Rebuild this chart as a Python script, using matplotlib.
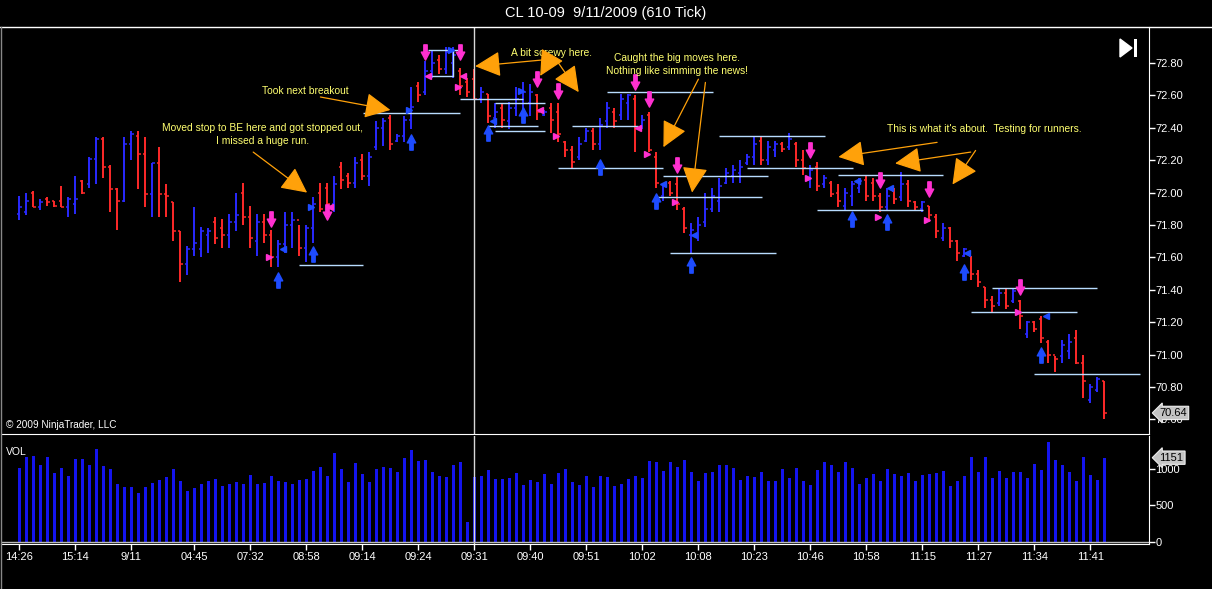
import matplotlib
matplotlib.use("Agg")
import matplotlib.pyplot as plt
from matplotlib.path import Path
from matplotlib.patches import Polygon, Rectangle
from matplotlib.transforms import blended_transform_factory

plt.rcParams['font.family'] = ['Liberation Sans', 'DejaVu Sans']

# ---- price bars (one per 610 ticks) ----
highs = [71.98, 72.00, 72.01, 71.96, 71.97, 71.95, 72.04, 71.97, 72.10, 72.08,
         72.22, 72.34, 72.34, 72.17, 72.03, 72.34, 72.38, 72.38, 72.34, 72.18,
         72.28, 72.05, 71.94, 71.76, 71.67, 71.91, 71.79, 71.78, 71.85, 71.84,
         71.87, 72.00, 72.06, 71.92, 71.87, 71.87, 71.77, 71.71, 71.88, 71.88,
         71.80, 71.80, 71.97, 72.06, 72.06, 72.10, 72.19, 72.12, 72.22, 72.24,
         72.25, 72.44, 72.46, 72.48, 72.36, 72.47, 72.65, 72.68, 72.81, 72.88,
         72.85, 72.90, 72.90, 72.77, 72.71, 72.76, 72.65, 72.61, 72.55, 72.55,
         72.56, 72.65, 72.68, 72.67, 72.61, 72.51, 72.55, 72.55, 72.32, 72.29,
         72.34, 72.40, 72.40, 72.46, 72.56, 72.52, 72.61, 72.61, 72.60, 72.48,
         72.50, 72.25, 72.06, 72.07, 72.10, 71.91, 71.81, 71.85, 72.00, 72.03,
         72.09, 72.15, 72.17, 72.20, 72.24, 72.34, 72.34, 72.32, 72.32, 72.31,
         72.37, 72.31, 72.26, 72.17, 72.19, 72.11, 72.07, 72.05, 72.03, 72.07,
         72.09, 72.10, 72.09, 72.00, 72.03, 72.03, 72.13, 72.08, 71.95, 71.95,
         71.92, 71.87, 71.81, 71.79, 71.71, 71.66, 71.61, 71.52, 71.42, 71.36,
         71.41, 71.41, 71.41, 71.34, 71.21, 71.21, 71.24, 71.09, 70.99, 71.09,
         71.13, 71.15, 71.00, 70.82, 70.86, 70.84]
lows = [71.83, 71.86, 71.91, 71.89, 71.92, 71.91, 71.91, 71.85, 71.87, 71.99,
        72.03, 72.05, 72.09, 71.88, 71.77, 71.94, 72.20, 72.02, 71.91, 71.85,
        71.85, 71.85, 71.70, 71.45, 71.49, 71.61, 71.60, 71.63, 71.68, 71.66,
        71.66, 71.76, 71.80, 71.66, 71.61, 71.69, 71.54, 71.54, 71.63, 71.66,
        71.61, 71.57, 71.69, 71.88, 71.86, 71.88, 72.02, 72.03, 72.03, 72.08,
        72.04, 72.26, 72.29, 72.26, 72.31, 72.31, 72.39, 72.56, 72.60, 72.71,
        72.73, 72.73, 72.71, 72.60, 72.59, 72.57, 72.55, 72.43, 72.40, 72.40,
        72.39, 72.47, 72.44, 72.47, 72.45, 72.47, 72.37, 72.31, 72.22, 72.15,
        72.20, 72.31, 72.26, 72.26, 72.40, 72.40, 72.45, 72.45, 72.25, 72.39,
        72.25, 72.03, 71.95, 71.98, 71.89, 71.75, 71.63, 71.70, 71.79, 71.88,
        71.88, 72.05, 72.06, 72.06, 72.17, 72.17, 72.17, 72.17, 72.22, 72.25,
        72.26, 72.16, 72.11, 72.03, 72.01, 72.03, 71.97, 71.91, 71.89, 71.92,
        72.00, 71.95, 71.95, 71.88, 71.89, 71.93, 71.95, 71.91, 71.89, 71.88,
        71.82, 71.72, 71.70, 71.66, 71.58, 71.60, 71.46, 71.42, 71.29, 71.26,
        71.30, 71.28, 71.32, 71.16, 71.10, 71.14, 71.07, 70.95, 70.89, 70.95,
        70.97, 70.94, 70.73, 70.70, 70.77, 70.60]
opens = [71.87, 71.88, 72.00, 71.91, 71.96, 71.95, 71.95, 71.91, 71.93, 72.07,
         72.05, 72.21, 72.33, 72.16, 72.02, 71.95, 72.30, 72.35, 72.24, 71.99,
         72.18, 71.99, 71.94, 71.76, 71.56, 71.65, 71.65, 71.74, 71.82, 71.78,
         71.74, 71.82, 72.00, 71.85, 71.70, 71.82, 71.74, 71.60, 71.68, 71.80,
         71.83, 71.66, 71.78, 72.00, 72.03, 71.93, 72.16, 72.10, 72.06, 72.20,
         72.10, 72.28, 72.40, 72.46, 72.32, 72.35, 72.45, 72.66, 72.62, 72.75,
         72.82, 72.76, 72.80, 72.75, 72.68, 72.70, 72.58, 72.61, 72.46, 72.52,
         72.44, 72.52, 72.50, 72.55, 72.60, 72.48, 72.52, 72.50, 72.31, 72.26,
         72.22, 72.32, 72.38, 72.30, 72.44, 72.50, 72.48, 72.55, 72.58, 72.41,
         72.48, 72.22, 71.98, 72.06, 72.05, 71.90, 71.74, 71.74, 71.82, 71.90,
         71.95, 72.06, 72.10, 72.12, 72.18, 72.22, 72.32, 72.20, 72.26, 72.30,
         72.28, 72.30, 72.20, 72.08, 72.16, 72.05, 72.06, 72.00, 71.92, 71.98,
         72.03, 72.08, 72.06, 71.98, 71.91, 72.01, 71.97, 72.05, 71.94, 71.90,
         71.92, 71.85, 71.72, 71.78, 71.70, 71.61, 71.61, 71.50, 71.42, 71.34,
         71.32, 71.38, 71.33, 71.33, 71.13, 71.20, 71.22, 71.08, 71.00, 70.99,
         71.02, 71.10, 70.95, 70.72, 70.78, 70.84]
closes = [71.91, 71.95, 71.91, 71.94, 71.94, 71.92, 71.91, 71.96, 71.96, 72.00,
          72.21, 72.33, 72.16, 72.02, 71.95, 72.30, 72.36, 72.24, 71.99, 72.18,
          71.99, 71.98, 71.76, 71.56, 71.65, 71.69, 71.76, 71.76, 71.72, 71.74,
          71.82, 71.86, 71.85, 71.72, 71.82, 71.74, 71.60, 71.68, 71.80, 71.83,
          71.66, 71.78, 71.93, 71.90, 71.93, 72.05, 72.08, 72.06, 72.18, 72.10,
          72.22, 72.40, 72.44, 72.30, 72.35, 72.45, 72.53, 72.60, 72.75, 72.80,
          72.76, 72.87, 72.85, 72.66, 72.62, 72.58, 72.62, 72.47, 72.50, 72.45,
          72.52, 72.58, 72.62, 72.62, 72.50, 72.50, 72.45, 72.36, 72.26, 72.19,
          72.30, 72.38, 72.30, 72.42, 72.52, 72.44, 72.58, 72.60, 72.40, 72.45,
          72.26, 72.06, 72.04, 72.00, 71.93, 71.78, 71.77, 71.80, 71.90, 71.98,
          72.04, 72.12, 72.14, 72.16, 72.22, 72.30, 72.20, 72.28, 72.30, 72.27,
          72.33, 72.20, 72.15, 72.14, 72.04, 72.09, 71.99, 71.95, 72.00, 72.05,
          72.07, 71.98, 71.98, 71.91, 71.98, 71.96, 72.05, 71.95, 71.91, 71.94,
          71.86, 71.76, 71.78, 71.70, 71.63, 71.65, 71.50, 71.45, 71.34, 71.30,
          71.38, 71.30, 71.39, 71.24, 71.20, 71.16, 71.10, 71.00, 70.97, 71.06,
          71.08, 70.95, 70.84, 70.80, 70.85, 70.64]
volumes = [1005, 1155, 1169, 1050, 1164, 945, 1005, 895, 1127, 1127,
           1055, 1274, 1040, 1000, 795, 748, 744, 662, 748, 808,
           850, 881, 995, 835, 698, 740, 795, 831, 863, 767,
           785, 813, 790, 913, 785, 799, 895, 835, 817, 785,
           840, 863, 963, 1018, 900, 1214, 990, 813, 1073, 927,
           822, 995, 1018, 1013, 954, 1142, 1251, 1100, 1123, 958,
           895, 881, 1050, 1087, 265, 881, 904, 977, 853, 853,
           868, 945, 781, 850, 822, 922, 790, 936, 995, 813,
           781, 895, 753, 895, 881, 767, 795, 858, 904, 868,
           1105, 1095, 972, 1087, 1022, 1123, 958, 835, 936, 958,
           1055, 1055, 1005, 850, 895, 881, 950, 835, 831, 995,
           868, 1005, 835, 781, 977, 1095, 1055, 950, 1087, 1013,
           795, 877, 922, 835, 995, 927, 895, 945, 835, 913,
           922, 945, 963, 767, 835, 904, 1164, 950, 1164, 868,
           972, 868, 958, 950, 872, 1059, 977, 1361, 1123, 1055,
           958, 835, 1155, 918, 850, 1151]

tick_bars = [0, 8, 16, 25, 33, 41, 49, 57, 65, 73, 81, 89, 97, 105, 113, 121, 129, 137, 145, 153]
tick_labels = ["14:26", "15:14", "9/11", "04:45", "07:32", "08:58", "09:14", "09:24", "09:31", "09:40",
               "09:51", "10:02", "10:08", "10:23", "10:46", "10:58", "11:15", "11:27", "11:34", "11:41"]

# ---- strategy drawings ----
line_start = [40.0, 49.1, 58.4, 58.4, 63.0, 68.0, 67.0, 68.0, 79.0, 84.0, 77.0, 92.0, 91.1, 93.0,
              100.0, 104.0, 117.0, 114.0, 139.0, 136.0, 145.0]
line_end = [49.1, 63.0, 62.7, 62.0, 72.0, 75.1, 74.1, 75.1, 88.4, 99.1, 92.0, 107.0, 106.1, 108.1,
            115.1, 119.1, 132.0, 129.1, 154.0, 151.1, 160.1]
line_price = [71.55, 72.49, 72.88, 72.72, 72.58, 72.55, 72.41, 72.38, 72.41, 72.62, 72.15, 72.10, 71.97, 71.63,
              72.35, 72.15, 72.11, 71.89, 71.41, 71.26, 70.88]

sell_bars = [36, 44, 58, 63, 74, 77, 88, 90, 94, 113, 123, 130, 143]
sell_prices = [71.84, 71.88, 72.87, 72.87, 72.70, 72.63, 72.68, 72.58, 72.17, 72.26, 72.08, 72.02, 71.42]
buy_bars = [37, 42, 56, 67, 72, 83, 91, 96, 119, 124, 135, 146]
buy_prices = [71.46, 71.62, 72.31, 72.37, 72.48, 72.16, 71.95, 71.55, 71.84, 71.82, 71.51, 71.00]

pink_right_x = [35.6, 62.7, 76.6, 89.7, 93.7, 112.6, 122.6, 129.7, 142.6]
pink_right_y = [71.60, 72.65, 72.35, 72.24, 71.94, 72.09, 71.85, 71.83, 71.26]
pink_left_x = [44.4, 58.4, 63.4, 74.4, 88.4]
pink_left_y = [71.91, 72.72, 72.72, 72.51, 72.40]
blue_right_x = [41.7, 55.6, 61.6, 71.6]
blue_right_y = [71.91, 72.51, 72.88, 72.63]
blue_left_x = [37.6, 67.6, 91.9, 96.3, 119.7, 124.4, 135.3, 146.6]
blue_left_y = [71.65, 72.44, 72.05, 71.74, 72.07, 72.03, 71.63, 71.24]

notes = [
    ("Moved stop to BE here and got stopped out,\nI missed a huge run.", 34.7, 72.36,
     [((33.4, 72.25), (41.1, 72.00))]),
    ("Took next breakout", 40.9, 72.63, [((43.0, 72.59), (53.0, 72.51))]),
    ("A bit screwy here.", 76.0, 72.86,
     [((75.1, 72.82), (65.1, 72.78)), ((75.6, 72.81), (74.4, 72.72)), ((77.0, 72.80), (79.9, 72.62))]),
    ("Caught the big moves here.\nNothing like simming the news!", 93.9, 72.79,
     [((97.0, 72.70), (92.0, 72.28)), ((98.0, 72.68), (96.1, 72.00))]),
    ("This is what it's about.  Testing for runners.", 137.9, 72.39,
     [((131.1, 72.31), (117.0, 72.22)), ((135.9, 72.25), (125.1, 72.18)), ((136.6, 72.26), (133.3, 72.05))]),
]

UP = "#2a2aff"
DOWN = "#ff2a2a"
PINK = "#ff30d0"
ARROW_BLUE = "#1e4cff"
TRADE_LINE = "#b8dcff"
NOTE = "#ffff70"
ORANGE = "#ffa10a"

down_arrow = Path([(-0.22, 1.0), (0.22, 1.0), (0.22, 0.05), (0.55, 0.05), (0.0, -1.0),
                   (-0.55, 0.05), (-0.22, 0.05), (-0.22, 1.0)],
                  [Path.MOVETO] + [Path.LINETO] * 6 + [Path.CLOSEPOLY])
up_arrow = Path([(x, -y) for x, y in down_arrow.vertices], down_arrow.codes)

W, H = 1212, 589
fig = plt.figure(figsize=(W / 100, H / 100), dpi=100, facecolor="black")
ax = fig.add_axes([0.5 / W, 1 - 434 / H, 1148 / W, (434 - 27) / H], facecolor="black")
axv = fig.add_axes([0.5 / W, 1 - 544 / H, 1148 / W, (544 - 436) / H], facecolor="black", sharex=ax)

n = len(closes)
xs = list(range(n))
colors = [UP if c >= o else DOWN for o, c in zip(opens, closes)]
ax.vlines(xs, lows, highs, colors=colors, lw=1.4)
ax.hlines(opens, [x - 0.4 for x in xs], xs, colors=colors, lw=1.1)
ax.hlines(closes, xs, [x + 0.4 for x in xs], colors=colors, lw=1.1)

ax.hlines(line_price, line_start, line_end, colors=TRADE_LINE, lw=1.0)
ax.plot([62.0, 62.0], [72.72, 72.88], color=TRADE_LINE, lw=1.0)

ax.plot(sell_bars, sell_prices, ls="none", marker=down_arrow, ms=11, color=PINK, mec=PINK)
ax.plot(buy_bars, buy_prices, ls="none", marker=up_arrow, ms=11, color=ARROW_BLUE, mec=ARROW_BLUE)
ax.plot(pink_right_x, pink_right_y, ls="none", marker=">", ms=5, color=PINK, mec=PINK)
ax.plot(pink_left_x, pink_left_y, ls="none", marker="<", ms=5, color=PINK, mec=PINK)
ax.plot(blue_right_x, blue_right_y, ls="none", marker=">", ms=5, color=ARROW_BLUE, mec=ARROW_BLUE)
ax.plot(blue_left_x, blue_left_y, ls="none", marker="<", ms=5, color=ARROW_BLUE, mec=ARROW_BLUE)

for text, tx, ty, arrows in notes:
    ax.text(tx, ty, text, color=NOTE, fontsize=7.4, ha="center", va="center", linespacing=1.35)
    for tail, tip in arrows:
        ax.annotate("", xy=tip, xytext=tail,
                    arrowprops=dict(arrowstyle="-|>,head_length=0.8,head_width=0.4",
                                    mutation_scale=20, color=ORANGE, lw=0.9,
                                    shrinkA=0, shrinkB=0))

# session divider
ax.axvline(65, color="#d8d8d8", lw=1.0)
axv.axvline(65, color="#d8d8d8", lw=1.0)

ax.set_xlim(-2.7, 161.3)
ax.set_ylim(70.51, 73.022)
ax.yaxis.tick_right()
ax.set_yticks([70.6, 70.8, 71.0, 71.2, 71.4, 71.6, 71.8, 72.0, 72.2, 72.4, 72.6, 72.8])
ax.set_yticklabels([f"{v:.2f}" for v in ax.get_yticks()])
ax.tick_params(axis="y", colors="white", labelsize=8, length=4, width=1, pad=1)
ax.tick_params(axis="x", bottom=False, labelbottom=False)
for side in ["top", "left"]:
    ax.spines[side].set_visible(False)
ax.spines["right"].set_color("white")
ax.spines["bottom"].set_color("white")

ax.text(0.005, 0.022, "\u00a9 2009 NinjaTrader, LLC", transform=ax.transAxes, color="white",
        fontsize=7.2, ha="left", va="center")

# last price marker sits over the bottom tick label, as in NinjaTrader
trans = blended_transform_factory(ax.transAxes, ax.transData)
ax.text(1.0095, closes[-1], f"{closes[-1]:.2f}", transform=trans, fontsize=8, color="black",
        ha="left", va="center", clip_on=False, zorder=10,
        bbox=dict(boxstyle="larrow,pad=0.15", fc="#c4c4c4", ec="#eeeeee", lw=0.8))

# ---- volume ----
axv.bar(xs, volumes, width=0.4, color="#1414ee")
axv.axhline(0, color="#bbbbbb", lw=1.0)
axv.set_ylim(-32, 1448)
axv.yaxis.tick_right()
axv.set_yticks([0, 500, 1000])
axv.tick_params(axis="y", colors="white", labelsize=8, length=4, width=1, pad=1)
axv.set_xticks(tick_bars)
axv.set_xticklabels(tick_labels)
axv.tick_params(axis="x", colors="white", labelsize=8, length=4, width=1, pad=2)
axv.spines["top"].set_visible(False)
axv.spines["left"].set_visible(False)
axv.spines["right"].set_color("white")
axv.spines["bottom"].set_color("white")
axv.text(0.005, 0.85, "VOL", transform=axv.transAxes, color="white", fontsize=7.5,
         ha="left", va="center")
transv = blended_transform_factory(axv.transAxes, axv.transData)
axv.text(1.0095, volumes[-1], str(volumes[-1]), transform=transv, fontsize=8, color="black",
         ha="left", va="center", clip_on=False, zorder=10,
         bbox=dict(boxstyle="larrow,pad=0.15", fc="#c4c4c4", ec="#eeeeee", lw=0.8))

# ---- frame, title, icon ----
fig.add_artist(plt.Line2D([0, 1], [1 - 27 / H, 1 - 27 / H], color="white", lw=1.0))
fig.add_artist(plt.Line2D([0.5 / W, 0.5 / W], [1 - 589 / H, 1 - 27 / H], color="#888888", lw=1.0))
fig.text(0.5, 1 - 13 / H, "CL 10-09  9/11/2009 (610 Tick)", color="white", fontsize=10.5,
         ha="center", va="center")
fig.add_artist(Polygon([(1120 / W, 1 - 39 / H), (1120 / W, 1 - 57 / H), (1132 / W, 1 - 48 / H)],
                       closed=True, fc="white", ec="white", transform=fig.transFigure))
fig.add_artist(Rectangle((1134 / W, 1 - 57 / H), 3 / W, 18 / H, fc="white", ec="none",
                         transform=fig.transFigure))

fig.savefig("out.png", dpi=100, facecolor="black")
